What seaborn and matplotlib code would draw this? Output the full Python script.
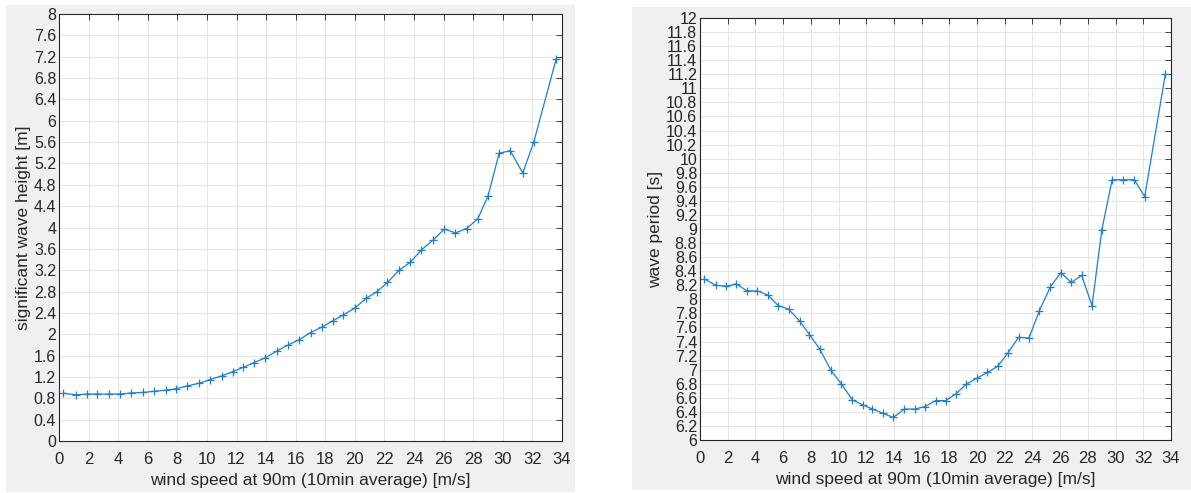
import numpy as np
import pandas as pd
import matplotlib
matplotlib.use("Agg")
import matplotlib.pyplot as plt
from matplotlib.patches import Rectangle
from matplotlib import font_manager
import seaborn as sns

# ---- data ----
wind_speed = [0.3, 1.15, 1.9, 2.6, 3.4, 4.15, 4.9, 5.65, 6.4, 7.2, 7.9, 8.65, 9.45,
              10.2, 11.0, 11.75, 12.45, 13.2, 13.95, 14.75, 15.5, 16.25, 17.0, 17.75,
              18.5, 19.2, 20.0, 20.75, 21.5, 22.2, 23.0, 23.75, 24.5, 25.3, 26.05,
              26.8, 27.55, 28.3, 29.0, 29.75, 30.5, 31.35, 32.1, 33.6]
wave_height = [0.895, 0.865, 0.88, 0.88, 0.88, 0.88, 0.90, 0.91, 0.93, 0.95, 0.98,
               1.03, 1.08, 1.15, 1.22, 1.30, 1.38, 1.47, 1.56, 1.69, 1.80, 1.90,
               2.03, 2.13, 2.25, 2.36, 2.49, 2.67, 2.80, 2.97, 3.20, 3.35, 3.58,
               3.77, 3.97, 3.90, 3.98, 4.16, 4.59, 5.39, 5.44, 5.02, 5.61, 7.15]
wave_period = [8.29, 8.20, 8.185, 8.22, 8.12, 8.12, 8.06, 7.91, 7.86, 7.69, 7.50,
               7.29, 6.99, 6.80, 6.57, 6.50, 6.44, 6.38, 6.32, 6.44, 6.44, 6.475,
               6.56, 6.56, 6.66, 6.79, 6.88, 6.96, 7.05, 7.23, 7.46, 7.45, 7.84,
               8.18, 8.38, 8.24, 8.34, 7.91, 8.98, 9.70, 9.70, 9.70, 9.46, 11.21]
x_ticks = [0, 2, 4, 6, 8, 10, 12, 14, 16, 18, 20, 22, 24, 26, 28, 30, 32, 34]
height_ticks = [0, 0.4, 0.8, 1.2, 1.6, 2, 2.4, 2.8, 3.2, 3.6, 4, 4.4, 4.8, 5.2,
                5.6, 6, 6.4, 6.8, 7.2, 7.6, 8]
period_ticks = [6, 6.2, 6.4, 6.6, 6.8, 7, 7.2, 7.4, 7.6, 7.8, 8, 8.2, 8.4, 8.6,
                8.8, 9, 9.2, 9.4, 9.6, 9.8, 10, 10.2, 10.4, 10.6, 10.8, 11, 11.2,
                11.4, 11.6, 11.8, 12]
x_label = "wind speed at 90m (10min average) [m/s]"
height_label = "significant wave height [m]"
period_label = "wave period [s]"

df = pd.DataFrame({"wind": wind_speed, "height": wave_height, "period": wave_period})

sns.set_style("white")
plt.rcParams["font.family"] = ["Liberation Sans", "DejaVu Sans"]

installed = {f.name for f in font_manager.fontManager.ttflist}
narrow = ["Liberation Sans Narrow"] if "Liberation Sans Narrow" in installed else ["Liberation Sans"]

W, H = 1191, 493
fig = plt.figure(figsize=(W / 100, H / 100), dpi=100)
fig.patch.set_facecolor("white")

# gray panel backgrounds (two MATLAB figure windows)
fig.patches.append(Rectangle((6 / W, 1 / H), 569 / W, 487 / H, transform=fig.transFigure,
                             facecolor="#f0f0f0", edgecolor="none", zorder=-10))
fig.patches.append(Rectangle((632 / W, 3 / H), 559 / W, 483 / H, transform=fig.transFigure,
                             facecolor="#f0f0f0", edgecolor="none", zorder=-10))

ax1 = fig.add_axes([59 / W, (H - 441) / H, 503 / W, 427 / H])
ax2 = fig.add_axes([700 / W, (H - 440) / H, 471 / W, 422 / H])

line_color = "#1f7fc8"
axis_color = "#262626"

for ax, col, yt, ylab, ylim, yfam, ysize in [
        (ax1, "height", height_ticks, height_label, (0, 8), ["Liberation Sans"], 11.5),
        (ax2, "period", period_ticks, period_label, (6, 12), narrow, 11.5)]:
    ax.set_facecolor("white")
    sns.lineplot(data=df, x="wind", y=col, ax=ax, color=line_color, linewidth=0.9,
                 marker="+", markersize=5.5, markeredgecolor=line_color,
                 markeredgewidth=0.9, sort=False)
    ax.set_xlim(0, 34)
    ax.set_ylim(*ylim)
    ax.set_xticks(x_ticks)
    ax.set_yticks(yt)
    ax.set_xticklabels([f"{v:g}" for v in x_ticks], fontsize=12, color=axis_color)
    ax.set_yticklabels([f"{v:g}" for v in yt], fontsize=ysize, color=axis_color,
                       family=yfam)
    ax.grid(True, color="#e0e0e0", linewidth=0.6)
    ax.set_axisbelow(True)
    ax.tick_params(direction="in", top=True, right=True, length=4, width=0.6,
                   colors=axis_color)
    ax.tick_params(axis="x", pad=8)
    ax.tick_params(axis="y", pad=2)
    for s in ax.spines.values():
        s.set_visible(True)
        s.set_color(axis_color)
        s.set_linewidth(0.8)
    ax.set_xlabel(x_label, fontsize=12.5, color=axis_color, labelpad=4)
    ax.set_ylabel(ylab, fontsize=12.5, color=axis_color, labelpad=2)

fig.savefig("out.png", dpi=100, facecolor="white")
